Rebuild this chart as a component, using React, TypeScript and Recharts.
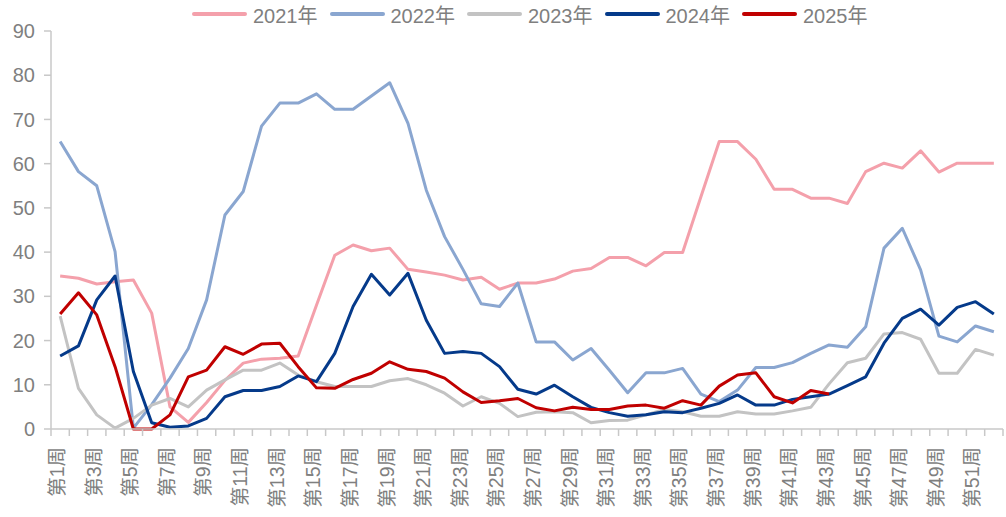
import React from 'react';
import { LineChart, Line, XAxis, YAxis, Legend } from 'recharts';

const weeks = Array.from({ length: 52 }, (_, i) => `第${i + 1}周`);

const y2021 = [34.6, 34.1, 32.8, 33.3, 33.7, 26.2, 5, 1.5, 6, 11, 14.9, 15.8, 16, 16.5, 28, 39.3, 41.6, 40.3, 40.9, 36.1, 35.5, 34.8, 33.7, 34.3, 31.6, 33, 33, 33.9, 35.7, 36.3, 38.8, 38.8, 36.9, 39.9, 39.9, 52.5, 65, 65, 61, 54.2, 54.2, 52.2, 52.2, 51, 58.2, 60.1, 59, 62.9, 58.1, 60.1, 60.1, 60.1];
const y2022 = [65, 58.2, 55, 40.1, 0.2, 5.5, 11.5, 18.2, 29.2, 48.4, 53.7, 68.5, 73.7, 73.7, 75.8, 72.3, 72.3, 75.3, 78.3, 69.1, 54, 43.5, 36.1, 28.3, 27.7, 33, 19.7, 19.7, 15.6, 18.2, 13.3, 8.2, 12.7, 12.7, 13.7, 7.9, 6.2, 8.8, 13.9, 13.9, 15, 17.1, 19, 18.5, 23.1, 40.9, 45.4, 36, 21, 19.7, 23.3, 22];
const y2023 = [25.5, 9.2, 3.2, 0.2, 2.4, 5.4, 6.9, 5, 8.8, 11.1, 13.3, 13.3, 14.9, 12.2, 10.7, 9.6, 9.6, 9.6, 10.9, 11.4, 10, 8.1, 5.2, 7.3, 5.8, 2.8, 3.8, 3.9, 3.7, 1.4, 1.9, 2, 3.2, 4.4, 3.9, 2.9, 2.9, 3.9, 3.4, 3.4, 4.1, 4.9, 10.2, 15, 16, 21.5, 21.8, 20.3, 12.6, 12.6, 18, 16.7];
const y2024 = [16.5, 18.8, 29.2, 34.6, 13, 1.4, 0.4, 0.7, 2.4, 7.3, 8.7, 8.7, 9.6, 12, 10.7, 17.1, 27.7, 35, 30.3, 35.2, 24.6, 17.1, 17.5, 17.1, 14.1, 9, 7.9, 9.9, 7.3, 4.9, 3.7, 2.9, 3.2, 3.9, 3.7, 4.7, 5.8, 7.7, 5.4, 5.4, 6.7, 7.3, 7.9, 9.8, 11.8, 19.4, 25, 27.1, 23.5, 27.5, 28.8, 26];
const y2025 = [26, 30.8, 25.8, 14.1, 0, 0, 3.2, 11.8, 13.3, 18.6, 16.9, 19.2, 19.4, 14.1, 9.3, 9.2, 11.2, 12.6, 15.2, 13.5, 13, 11.5, 8.4, 6, 6.4, 6.9, 4.8, 4.1, 4.9, 4.4, 4.4, 5.2, 5.4, 4.7, 6.4, 5.4, 9.7, 12.2, 12.7, 7.3, 5.9, 8.7, 7.9];

const yTicks = [0, 10, 20, 30, 40, 50, 60, 70, 80, 90];

const series = [
  { key: 'y2021', name: '2021年', color: '#f4a0ab' },
  { key: 'y2022', name: '2022年', color: '#8aa6d0' },
  { key: 'y2023', name: '2023年', color: '#c3c3c3' },
  { key: 'y2024', name: '2024年', color: '#053a8a' },
  { key: 'y2025', name: '2025年', color: '#c00000' },
];

const data = weeks.map((w, i) => ({
  week: w,
  y2021: y2021[i],
  y2022: y2022[i],
  y2023: y2023[i],
  y2024: y2024[i],
  y2025: i < y2025.length ? y2025[i] : null,
}));

const FONT = '"Liberation Sans", Arial, "Noto Sans CJK SC", sans-serif';
const AXIS = '#c8c8c8';
const STEP = 952 / 52;

// excel style: tick marks between categories, label on every other week
const WeekTick = (props: any) => {
  const { x, y, index, payload } = props;
  const left = x - STEP / 2;
  return (
    <g>
      <line x1={left} y1={y} x2={left} y2={y + 7} stroke={AXIS} strokeWidth={1.5} />
      {index === 51 && (
        <line x1={x + STEP / 2} y1={y} x2={x + STEP / 2} y2={y + 7} stroke={AXIS} strokeWidth={1.5} />
      )}
      {index % 2 === 0 && (
        <text
          transform={`translate(${x - 3}, ${y + 18}) rotate(-90)`}
          textAnchor="end"
          dy="0.35em"
          fill="#7f7f7f"
          fontSize={19.5}
          fontFamily={FONT}
        >
          {payload.value}
        </text>
      )}
    </g>
  );
};

const LegendBox = () => (
  <div style={{ display: 'flex', alignItems: 'center', height: 24, fontFamily: FONT }}>
    {series.map((s) => (
      <div key={s.key} style={{ display: 'flex', alignItems: 'center', marginRight: 12 }}>
        <div style={{ width: 55, height: 4, background: s.color, borderRadius: 2, marginRight: 6 }} />
        <span style={{ fontSize: 20, color: '#7f7f7f' }}>{s.name}</span>
      </div>
    ))}
  </div>
);

export default function App() {
  return (
    <div style={{ position: 'absolute', left: 0, top: 0, width: 1006, height: 517, background: '#fff' }}>
      <LineChart width={1006} height={517} data={data} margin={{ top: 7, right: 3, bottom: 0, left: 0 }}>
        <Legend
          verticalAlign="top"
          height={24}
          content={<LegendBox />}
          wrapperStyle={{ left: 192, top: 2, width: 'auto' }}
        />
        <XAxis
          dataKey="week"
          interval={0}
          height={88}
          padding={{ left: STEP / 2, right: STEP / 2 }}
          tickLine={false}
          tickSize={0}
          tickMargin={0}
          axisLine={{ stroke: AXIS, strokeWidth: 1.5 }}
          tick={<WeekTick />}
        />
        <YAxis
          width={51}
          domain={[0, 90]}
          ticks={yTicks}
          interval={0}
          tickSize={7}
          tickMargin={9}
          axisLine={{ stroke: AXIS, strokeWidth: 1.5 }}
          tickLine={{ stroke: AXIS, strokeWidth: 1.5 }}
          tick={{ fill: '#7f7f7f', fontSize: 20, fontFamily: FONT }}
        />
        {series.map((s) => (
          <Line
            key={s.key}
            type="linear"
            dataKey={s.key}
            name={s.name}
            stroke={s.color}
            strokeWidth={3}
            strokeLinejoin="round"
            dot={false}
            activeDot={false}
            isAnimationActive={false}
          />
        ))}
      </LineChart>
    </div>
  );
}
